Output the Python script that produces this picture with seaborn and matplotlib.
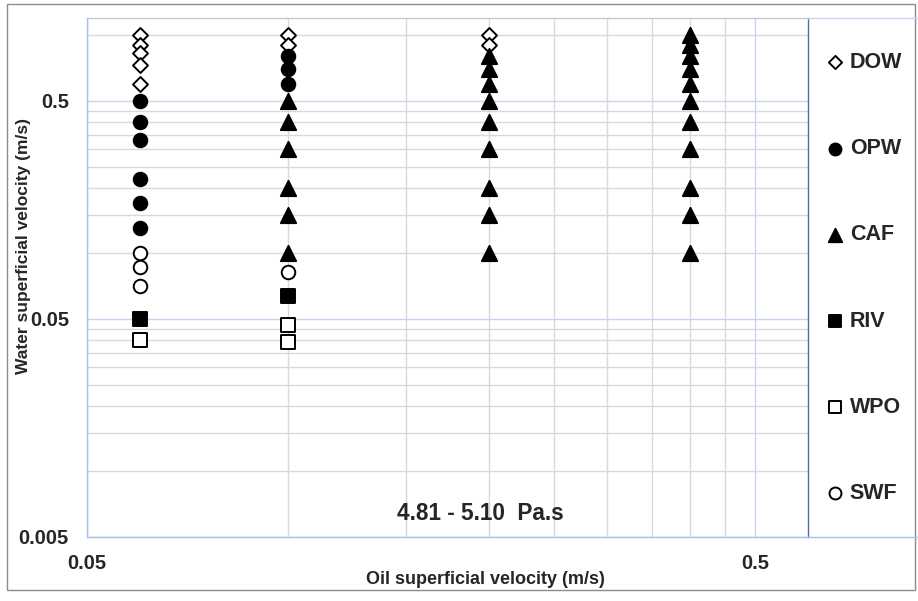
import numpy as np
import pandas as pd
import matplotlib
matplotlib.use("Agg")
import matplotlib.pyplot as plt
import seaborn as sns
from matplotlib.ticker import FixedLocator, FuncFormatter, NullFormatter
from matplotlib.patches import Rectangle
from matplotlib.lines import Line2D

# DATA
regimes = ["DOW", "OPW", "CAF", "RIV", "WPO", "SWF"]

dow_oil = [0.06, 0.06, 0.06, 0.06, 0.06, 0.1, 0.1, 0.2, 0.2]
dow_water = [1.0, 0.9, 0.83, 0.73, 0.6, 1.0, 0.9, 1.0, 0.9]

opw_oil = [0.06, 0.06, 0.06, 0.06, 0.06, 0.06, 0.1, 0.1, 0.1]
opw_water = [0.5, 0.4, 0.33, 0.22, 0.17, 0.13, 0.8, 0.7, 0.6]

caf_oil = [0.1] * 6 + [0.2] * 9 + [0.4] * 11
caf_water = [0.5, 0.4, 0.3, 0.2, 0.15, 0.1,
             0.8, 0.7, 0.6, 0.5, 0.4, 0.3, 0.2, 0.15, 0.1,
             1.0, 0.9, 0.8, 0.7, 0.6, 0.5, 0.4, 0.3, 0.2, 0.15, 0.1]

riv_oil = [0.06, 0.1]
riv_water = [0.05, 0.064]

wpo_oil = [0.06, 0.1, 0.1]
wpo_water = [0.04, 0.047, 0.039]

swf_oil = [0.06, 0.06, 0.06, 0.1]
swf_water = [0.10, 0.087, 0.071, 0.082]

x_major = [0.05, 0.5]
y_major = [0.005, 0.05, 0.5]
x_limits = (0.05, 0.6)
y_limits = (0.005, 1.2)
viscosity_text = "4.81 - 5.10  Pa.s"

frames = []
for name, xo, yw in [("DOW", dow_oil, dow_water), ("OPW", opw_oil, opw_water),
                     ("CAF", caf_oil, caf_water), ("RIV", riv_oil, riv_water),
                     ("WPO", wpo_oil, wpo_water), ("SWF", swf_oil, swf_water)]:
    frames.append(pd.DataFrame({"oil": xo, "water": yw, "regime": name}))
df = pd.concat(frames, ignore_index=True)

# marker style per regime: (marker, size, face)
styles = {
    "DOW": ("D", 58, "white"),
    "OPW": ("o", 95, "black"),
    "CAF": ("^", 120, "black"),
    "RIV": ("s", 95, "black"),
    "WPO": ("s", 88, "white"),
    "SWF": ("o", 95, "white"),
}

sns.set_style("white")
plt.rcParams["font.family"] = ["Liberation Sans", "DejaVu Sans"]
plt.rcParams["font.weight"] = "bold"

fig = plt.figure(figsize=(9.18, 6.01), dpi=100)
ax = fig.add_axes([87 / 918, 1 - 537 / 601, (808 - 87) / 918, (537 - 18) / 601])

for name in regimes:
    sub = df[df["regime"] == name]
    mk, size, face = styles[name]
    sns.scatterplot(data=sub, x="oil", y="water", marker=mk, s=size,
                    facecolor=face, edgecolor="black", linewidth=1.4,
                    label=name, ax=ax, zorder=3)

ax.set_xscale("log")
ax.set_yscale("log")
ax.set_xlim(*x_limits)
ax.set_ylim(*y_limits)

# excel-like log gridlines: minor at 2..9 x major
x_minor = [m * k for m in x_major for k in range(2, 10)]
y_minor = [m * k for m in y_major for k in range(2, 10)]
ax.xaxis.set_major_locator(FixedLocator(x_major))
ax.yaxis.set_major_locator(FixedLocator(y_major))
ax.xaxis.set_minor_locator(FixedLocator(x_minor))
ax.yaxis.set_minor_locator(FixedLocator(y_minor))
fmt = FuncFormatter(lambda v, p: f"{v:g}")
ax.xaxis.set_major_formatter(fmt)
ax.yaxis.set_major_formatter(fmt)
ax.xaxis.set_minor_formatter(NullFormatter())
ax.yaxis.set_minor_formatter(NullFormatter())

ax.set_axisbelow(True)
ax.grid(which="minor", color="#d9d9d9", lw=1)
ax.grid(which="major", color="#c5d5ef", lw=1)

ax.tick_params(which="both", direction="out", length=4, width=1, color="#a9c1e8")
ax.tick_params(axis="y", which="major", labelsize=14.5, pad=9)
ax.tick_params(axis="x", which="major", labelsize=14.5, pad=8)
for lab in ax.get_xticklabels() + ax.get_yticklabels():
    lab.set_fontweight("bold")

ax.spines["left"].set_color("#a9c1e8")
ax.spines["bottom"].set_color("#a9c1e8")
ax.spines["top"].set_color("#c8c8c8")
ax.spines["right"].set_color("#4f6fa0")
for s in ax.spines.values():
    s.set_linewidth(1)

ax.set_xlabel("Oil superficial velocity (m/s)", fontsize=13, fontweight="bold")
ax.set_ylabel("Water superficial velocity (m/s)", fontsize=12.5, fontweight="bold")
ax.xaxis.set_label_coords(0.553, -0.066)
ax.yaxis.set_label_coords(-0.078, 0.561)

ax.text(0.546, 0.046, viscosity_text, transform=ax.transAxes, ha="center",
        va="center", fontsize=16.3, fontweight="bold")

leg = ax.legend(loc="upper left", bbox_to_anchor=(826 / 918, 1 - 52 / 601),
                bbox_transform=fig.transFigure, frameon=False, fontsize=15.5,
                labelspacing=3.03, handletextpad=0.3, handlelength=0.8,
                markerscale=0.88, borderpad=0, borderaxespad=0)
for t in leg.get_texts():
    t.set_fontweight("bold")

# legend area borders and outer frame
fig.add_artist(Line2D([808 / 918, 1], [1 - 18 / 601, 1 - 18 / 601],
                      transform=fig.transFigure, color="#c5d5ef", lw=1))
fig.add_artist(Line2D([808 / 918, 1], [1 - 537 / 601, 1 - 537 / 601],
                      transform=fig.transFigure, color="#a9c1e8", lw=1))
fig.add_artist(Rectangle((7 / 918, 1 - 590 / 601), (915 - 7) / 918, (590 - 4) / 601,
                         transform=fig.transFigure, fill=False,
                         edgecolor="#8c8c8c", lw=1))

plt.savefig("out.png", dpi=100)
